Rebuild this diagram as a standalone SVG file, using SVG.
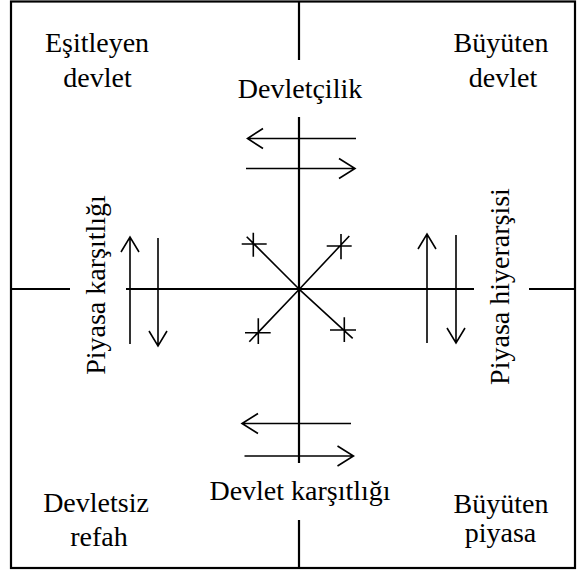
<svg xmlns="http://www.w3.org/2000/svg" width="577" height="579" viewBox="0 0 577 579">
<style>
text{font-family:'Liberation Serif','DejaVu Serif',serif;font-size:28px;fill:#000;text-anchor:middle}
.axis{stroke:#000;stroke-width:2.2;fill:none}
.arr{stroke:#000;stroke-width:1.6;fill:none}
.dia{stroke:#000;stroke-width:1.6;fill:none}
</style>
<rect x="0" y="0" width="577" height="579" fill="#fff"/>
<rect x="11" y="1.5" width="564" height="566.5" fill="none" stroke="#000" stroke-width="2.2"/>
<g id="axes">
<line class="axis" x1="299" y1="1" x2="299" y2="60"/>
<line class="axis" x1="299" y1="117" x2="299" y2="463"/>
<line class="axis" x1="299" y1="520" x2="299" y2="568"/>
<line class="axis" x1="11" y1="289" x2="70" y2="289"/>
<line class="axis" x1="126" y1="289" x2="474" y2="289"/>
<line class="axis" x1="529" y1="289" x2="575" y2="289"/>
</g>
<g id="connectors">
<path class="arr" d="M356 138.5H247.5M263 128.5L247.5 138.5L263 148.5"/>
<path class="arr" d="M246 168.5H355M339 158.5L355 168.5L339 178.5"/>
<path class="arr" d="M351 423.5H242M258 413.5L242 423.5L258 433.5"/>
<path class="arr" d="M244.5 456H353.5M337.5 446L353.5 456L337.5 466"/>
<path class="arr" d="M130 344V237M121 252L130 237L139 252"/>
<path class="arr" d="M158 238V346M149 331L158 346L167 331"/>
<path class="arr" d="M427 343V234M418 249L427 234L436 249"/>
<path class="arr" d="M456 235V343M447 328L456 343L465 328"/>
<path class="dia" d="M246.7 236.7L299.3 289.3M241.7 244H266.7M253.3 232.7V256.7"/>
<path class="dia" d="M349.3 236L299.3 289.3M326.7 246H351.7M341 234V259.3"/>
<path class="dia" d="M249.3 341.7L299.3 289.3M245 332.7H270.7M258.3 318.3V344"/>
<path class="dia" d="M352.7 338.3L299.3 289.3M330 330H356M344.3 317.3V342"/>
</g>
<g font-family="Liberation Serif, serif">
<g id="esitleyen-devlet"><text x="97" y="52">Eşitleyen</text><text x="97.5" y="87">devlet</text></g>
<g id="buyuten-devlet"><text x="501" y="52">Büyüten</text><text x="503" y="87">devlet</text></g>
<g id="devletcilik"><text x="300" y="98">Devletçilik</text></g>
<g id="piyasa-karsitligi"><text transform="translate(105 285) rotate(-90)">Piyasa karşıtlığı</text></g>
<g id="piyasa-hiyerarsisi"><text transform="translate(509 286.5) rotate(-90)">Piyasa hiyerarşisi</text></g>
<g id="devlet-karsitligi"><text x="300" y="500">Devlet karşıtlığı</text></g>
<g id="devletsiz-refah"><text x="96" y="512">Devletsiz</text><text x="99" y="546">refah</text></g>
<g id="buyuten-piyasa"><text x="501" y="512.5">Büyüten</text><text x="500.5" y="541.5">piyasa</text></g>
</g>
</svg>
